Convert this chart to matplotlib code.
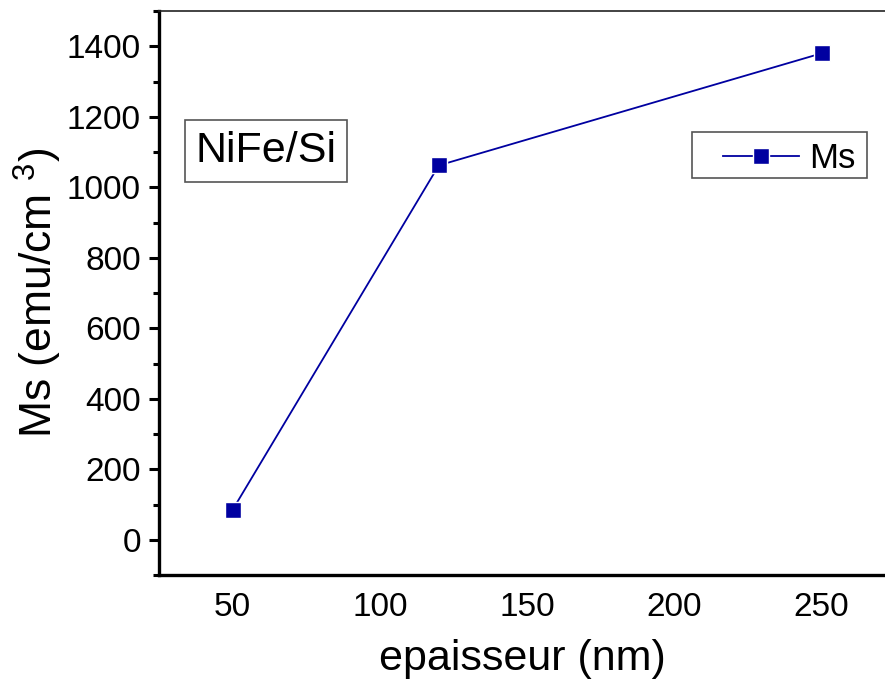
import matplotlib
matplotlib.use("Agg")
import matplotlib.pyplot as plt
from matplotlib.ticker import MultipleLocator
from matplotlib.patches import Rectangle

plt.rcParams['font.family'] = ['Liberation Sans', 'DejaVu Sans']
plt.rcParams['mathtext.fontset'] = 'custom'
plt.rcParams['mathtext.rm'] = 'Liberation Sans'
plt.rcParams['mathtext.it'] = 'Liberation Sans'

# data
epaisseur = [50, 120, 250]
ms_values = [85, 1062, 1380]
x_ticks = [50, 100, 150, 200, 250]
y_ticks = [0, 200, 400, 600, 800, 1000, 1200, 1400]

blue = '#0000a0'

fig = plt.figure(figsize=(8.85, 6.87), dpi=100)
ax = fig.add_axes([159 / 885, 112 / 687, 1 - 159 / 885, (575 - 11) / 687])

ax.plot(epaisseur, ms_values, color=blue, linewidth=1.3, marker='s',
        markersize=11.5, markerfacecolor=blue, markeredgecolor='white',
        markeredgewidth=1.0, label='Ms')

ax.set_xlim(25, 271.5)
ax.set_ylim(-100, 1500)
ax.set_xticks(x_ticks)
ax.set_yticks(y_ticks)
ax.yaxis.set_minor_locator(MultipleLocator(100))

ax.tick_params(axis='y', which='major', direction='out', length=7, width=2.2,
               labelsize=24, pad=6)
ax.tick_params(axis='y', which='minor', direction='out', length=4, width=2.2)
ax.tick_params(axis='x', which='both', length=0, labelsize=24, pad=12)

ax.spines['left'].set_linewidth(2.4)
ax.spines['bottom'].set_linewidth(2.4)
ax.spines['top'].set_linewidth(1.2)
ax.spines['top'].set_color('#222222')
ax.spines['right'].set_visible(False)

ax.set_xlabel('epaisseur (nm)', fontsize=31, labelpad=12)
ax.set_ylabel('Ms (emu/cm $^{3}$)', fontsize=32, labelpad=2)

ax.text(266 / 885, 1 - 151 / 687, 'NiFe/Si', transform=fig.transFigure,
        fontsize=31, ha='center', va='center',
        bbox=dict(boxstyle='square,pad=0.25', facecolor='white',
                  edgecolor='#555555', linewidth=1.2))

# legend frame drawn separately (Origin style, wide left margin)
ax.add_patch(Rectangle((692 / 885, 1 - 178 / 687), 175 / 885, 46 / 687,
                       transform=fig.transFigure, facecolor='white',
                       edgecolor='#555555', linewidth=1.2, zorder=3,
                       clip_on=False))
leg = ax.legend(loc='center right', bbox_to_anchor=(856 / 885, 1 - 159 / 687),
                bbox_transform=fig.transFigure, fontsize=25, frameon=False,
                borderaxespad=0, handlelength=2.2, handletextpad=0.3,
                borderpad=0.0)
leg.set_zorder(5)

fig.savefig('out.png', dpi=100)
